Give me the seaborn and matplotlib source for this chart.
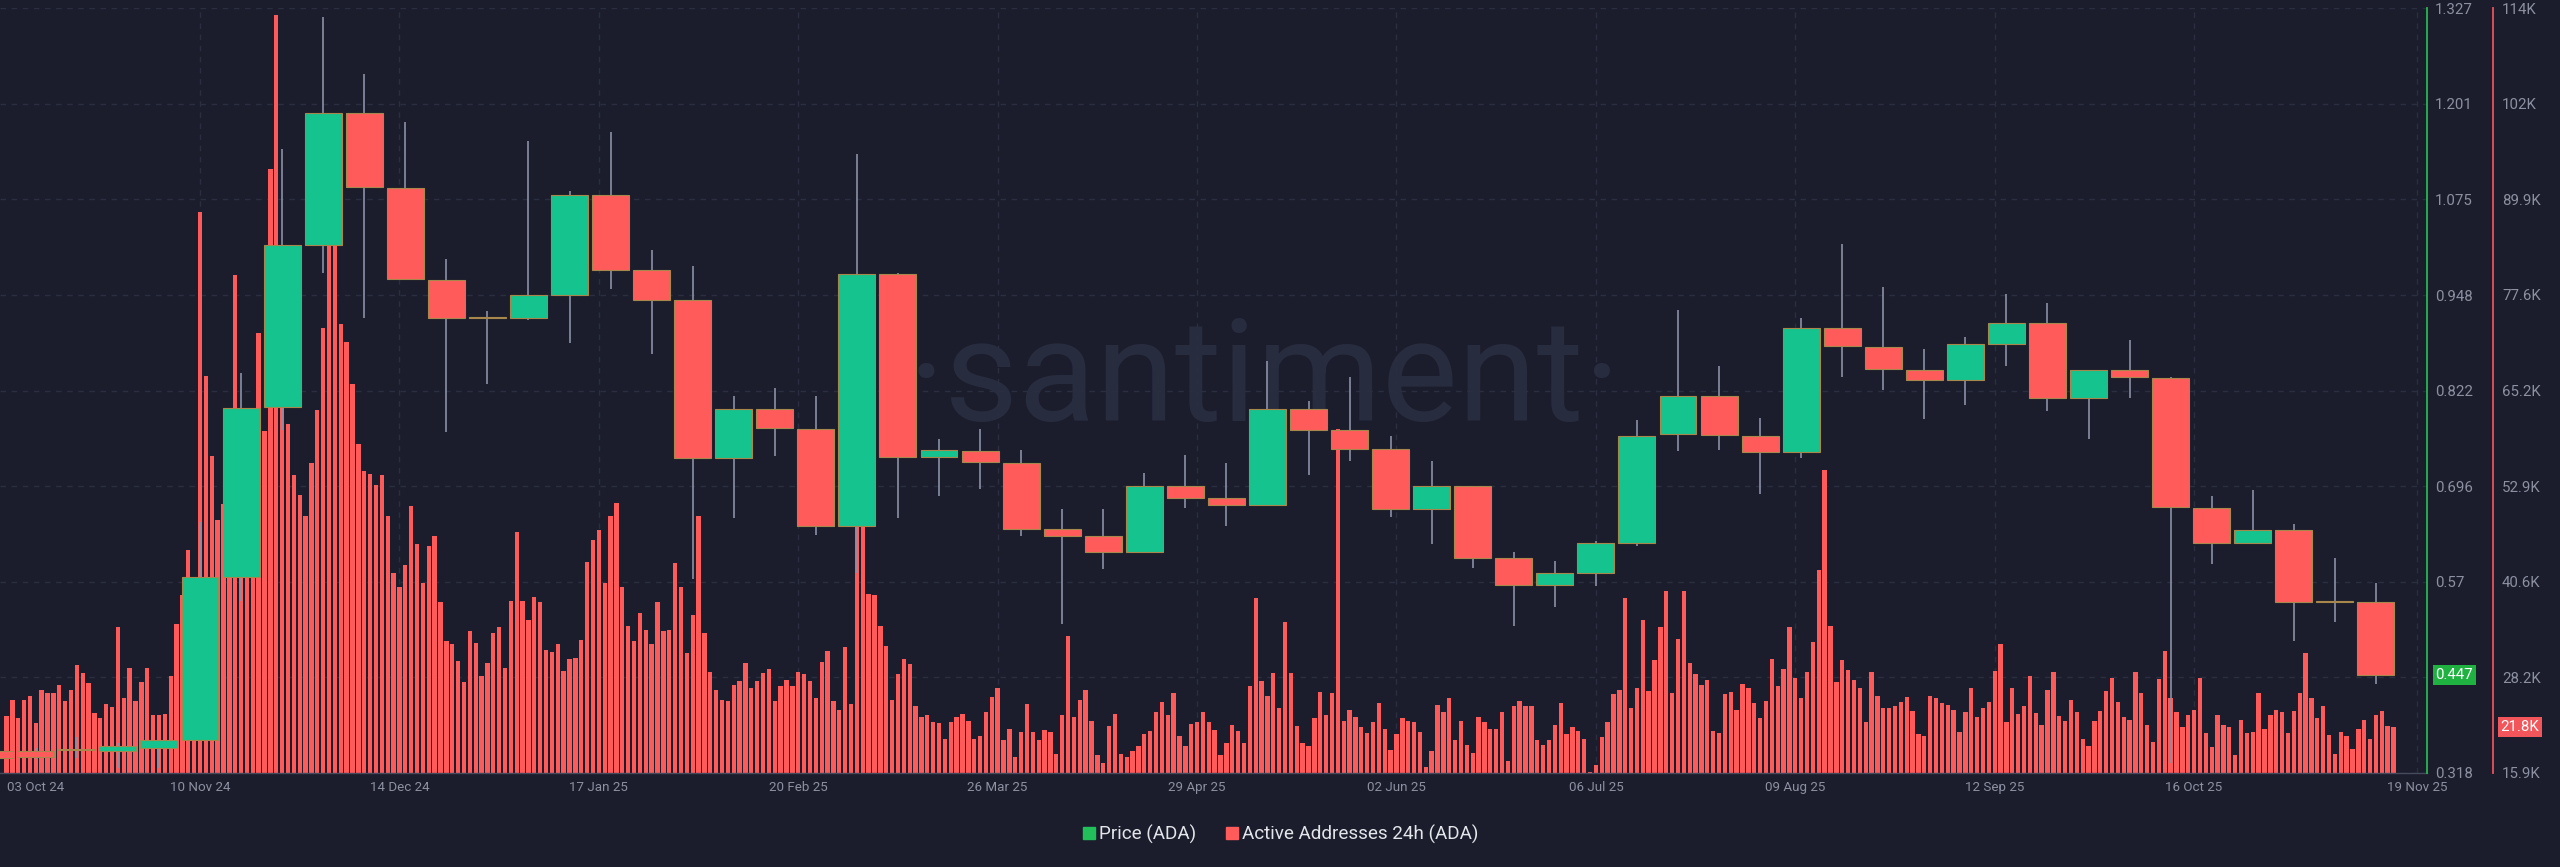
import numpy as np
import pandas as pd
import matplotlib
matplotlib.use("Agg")
import matplotlib.pyplot as plt
import matplotlib.dates as mdates
from matplotlib.lines import Line2D
import seaborn as sns

# ---------------- data ----------------
bar_start = "2024-10-08"          # daily Active Addresses 24h (thousands)
active_addresses_k = [
    23.2, 25.3, 22.9, 25.3, 25.8, 22.3, 26.6, 26.2, 26.2, 27.2,
    25.1, 26.6, 29.7, 28.7, 27.4, 23.6, 22.9, 24.7, 24.4, 34.6,
    25.5, 29.4, 25.1, 27.6, 29.4, 23.3, 23.4, 23.5, 28.4, 35.0,
    38.7, 44.5, 40.0, 87.8, 66.8, 56.6, 48.4, 50.4, 53.6, 79.7,
    51.7, 54.3, 56.9, 72.3, 59.7, 93.4, 113.1, 66.6, 60.6, 54.1,
    51.6, 48.8, 55.6, 62.5, 73.0, 84.2, 86.0, 73.5, 71.2, 65.8,
    58.1, 54.6, 54.3, 52.8, 54.1, 48.9, 41.5, 39.8, 42.6, 50.2,
    45.3, 40.3, 45.0, 46.3, 37.8, 32.8, 32.5, 30.2, 27.6, 34.1,
    32.6, 28.4, 30.0, 33.8, 34.6, 29.4, 37.9, 46.8, 38.0, 35.5,
    38.5, 37.8, 31.7, 31.4, 32.5, 29.0, 30.5, 30.7, 32.9, 42.9,
    45.8, 47.0, 40.3, 48.9, 50.5, 39.8, 34.8, 32.8, 36.4, 34.2,
    32.5, 37.8, 34.1, 34.2, 42.8, 39.8, 31.3, 36.2, 48.8, 33.8,
    28.9, 26.6, 25.3, 25.1, 27.2, 27.7, 30.0, 26.8, 27.7, 28.7,
    29.2, 25.1, 27.1, 27.8, 27.0, 28.8, 28.6, 27.7, 25.5,
    30.1, 31.6, 25.1, 24.0, 32.0, 24.7, 55.0, 50.0, 38.9, 38.7,
    34.8, 32.2, 25.2, 28.6, 30.5, 29.9, 24.5, 23.1, 23.3, 22.4,
    22.3, 20.3, 22.4, 23.1, 23.5, 22.6, 20.3, 20.6, 23.7, 25.7,
    26.8, 20.1, 21.6, 18.0, 21.1, 24.7, 21.1, 20.1, 21.4, 21.1,
    18.4, 23.4, 33.5, 23.1, 25.3, 26.6, 22.6, 18.2, 17.2, 21.9,
    23.5, 18.4, 18.0, 18.7, 19.3, 20.9, 21.3, 23.7, 25.0, 23.3,
    26.2, 20.6, 19.3, 22.2, 22.4, 23.7, 22.4, 21.4, 18.2,
    19.8, 22.1, 21.3, 19.8, 27.0, 38.3, 27.7, 25.8, 28.7, 24.2,
    35.2, 28.7, 21.9, 19.8, 19.3, 22.9, 26.3, 23.3, 26.2, 60.0,
    22.6, 24.0, 23.1, 21.8, 21.0, 22.4, 24.9, 21.6, 18.8, 20.9,
    22.9, 22.6, 22.4, 21.2, 16.7, 18.7, 24.6, 23.7, 25.5, 20.1,
    22.6, 19.5, 18.5, 23.1, 22.5, 21.6, 21.6, 23.7, 17.5, 24.5,
    25.1, 24.5, 24.5, 20.1, 19.5, 20.1, 22.1, 24.9, 20.9, 21.8,
    21.3, 20.3, 16.0, 16.9, 20.5, 22.4, 26.0, 26.6, 38.3,
    24.2, 26.8, 35.5, 26.4, 30.4, 34.6, 39.2, 26.1, 33.1, 39.2,
    30.0, 28.6, 27.2, 27.8, 21.3, 21.0, 26.0, 26.3, 24.0, 27.3,
    26.8, 24.9, 22.9, 25.1, 30.5, 27.0, 29.2, 34.6, 28.1, 25.5,
    28.9, 32.7, 41.9, 54.8, 34.8, 27.6, 30.4, 29.1, 27.8, 26.8,
    22.4, 28.8, 25.8, 24.2, 24.2, 24.5, 25.0, 25.7, 23.8, 20.9,
    20.6, 25.8, 25.5, 24.9, 24.6, 24.0, 21.1, 23.7, 26.8, 23.1,
    24.2, 25.0, 29.0, 32.5, 22.4, 26.8, 23.5, 24.5, 28.3,
    23.6, 22.1, 26.5, 28.8, 23.2, 22.6, 25.3, 23.7, 20.3, 19.3,
    22.6, 23.9, 26.4, 28.1, 25.0, 23.1, 22.7, 28.8, 26.1, 22.1,
    19.9, 27.9, 31.6, 25.5, 23.7, 21.8, 23.3, 24.0, 28.1, 21.0,
    19.2, 23.3, 22.1, 21.8, 18.2, 22.7, 21.0, 21.2, 26.1, 21.6,
    23.4, 24.0, 23.7, 21.0, 23.8, 26.1, 31.3, 25.5, 22.9, 24.5,
    20.8, 18.4, 21.1, 20.6, 19.0, 21.6, 22.7, 20.3, 23.3, 23.8, 21.9, 21.8,
]

candle_start = "2024-10-06"       # weekly ADA price candles
price_open = [
    0.347, 0.347, 0.349, 0.347, 0.351, 0.361, 0.577, 0.801, 1.015, 1.189,
    1.089, 0.968, 0.918, 0.918, 0.948, 1.081, 0.982, 0.942, 0.733, 0.798,
    0.772, 0.644, 0.976, 0.735, 0.743, 0.727, 0.640, 0.630, 0.609, 0.697,
    0.681, 0.671, 0.798, 0.770, 0.746, 0.666, 0.697, 0.601, 0.566, 0.582,
    0.622, 0.765, 0.815, 0.762, 0.741, 0.905, 0.880, 0.850, 0.837, 0.884,
    0.912, 0.813, 0.849, 0.839, 0.667, 0.622, 0.639, 0.544, 0.543]
price_close = [
    0.338, 0.339, 0.348, 0.353, 0.361, 0.577, 0.800, 1.014, 1.189, 1.091,
    0.970, 0.918, 0.919, 0.948, 1.081, 0.982, 0.942, 0.733, 0.798, 0.773,
    0.644, 0.976, 0.735, 0.744, 0.728, 0.640, 0.631, 0.609, 0.697, 0.681,
    0.671, 0.798, 0.771, 0.746, 0.666, 0.697, 0.602, 0.566, 0.582, 0.622,
    0.763, 0.815, 0.764, 0.741, 0.905, 0.881, 0.851, 0.837, 0.884, 0.912,
    0.813, 0.849, 0.840, 0.669, 0.622, 0.639, 0.544, 0.543, 0.447]
price_high = [
    0.352, 0.351, 0.365, 0.358, 0.362, 0.649, 0.846, 1.141, 1.315, 1.240,
    1.176, 0.996, 0.928, 1.151, 1.085, 1.164, 1.008, 0.987, 0.815, 0.826,
    0.815, 1.134, 0.977, 0.758, 0.772, 0.744, 0.666, 0.666, 0.714, 0.737,
    0.727, 0.861, 0.808, 0.840, 0.763, 0.729, 0.697, 0.609, 0.597, 0.624,
    0.783, 0.929, 0.855, 0.786, 0.918, 1.016, 0.959, 0.877, 0.893, 0.950,
    0.938, 0.849, 0.889, 0.840, 0.684, 0.691, 0.646, 0.602, 0.569]
price_low = [
    0.334, 0.336, 0.338, 0.325, 0.325, 0.361, 0.545, 0.770, 0.977, 0.918,
    0.968, 0.768, 0.831, 0.915, 0.885, 0.956, 0.870, 0.574, 0.654, 0.736,
    0.632, 0.582, 0.654, 0.684, 0.693, 0.630, 0.514, 0.587, 0.609, 0.667,
    0.644, 0.671, 0.711, 0.729, 0.656, 0.620, 0.589, 0.512, 0.537, 0.564,
    0.617, 0.743, 0.744, 0.686, 0.734, 0.840, 0.823, 0.785, 0.804, 0.855,
    0.795, 0.758, 0.812, 0.331, 0.594, 0.621, 0.492, 0.517, 0.435]

price_ticks = [0.318, 0.444, 0.570, 0.696, 0.822, 0.948, 1.075, 1.201, 1.327]
price_tick_labels = ["0.318", "", "0.57", "0.696", "0.822", "0.948", "1.075", "1.201", "1.327"]
aa_ticks = [15900, 28160, 40430, 52690, 64950, 77210, 89480, 101740, 114000]
aa_tick_labels = ["15.9K", "28.2K", "40.6K", "52.9K", "65.2K", "77.6K", "89.9K", "102K", "114K"]
xtick_dates = ["2024-10-13", "2024-11-10", "2024-12-14", "2025-01-17", "2025-02-20",
               "2025-03-26", "2025-04-29", "2025-06-02", "2025-07-06", "2025-08-09",
               "2025-09-12", "2025-10-16", "2025-11-23"]
xtick_labels = ["03 Oct 24", "10 Nov 24", "14 Dec 24", "17 Jan 25", "20 Feb 25",
                "26 Mar 25", "29 Apr 25", "02 Jun 25", "06 Jul 25", "09 Aug 25",
                "12 Sep 25", "16 Oct 25", "19 Nov 25"]
last_price = 0.447
last_aa_label = "21.8K"
last_aa = 21800
x_range = ["2024-10-06 21:30", "2025-11-24 17:00"]

# ---------------- style ----------------
BG = "#1b1d2c"
GREEN = "#14c38e"
RED = "#ff5b5b"
BAR_RED = "#ff5a5a"
EDGE = "#a8874c"
WICK = "#8b90a6"
TICK = "#8c90a1"
GRID = "#2a2e40"
PRICE_LINE = "#27b84d"
AA_LINE = "#e8525a"

sns.set_theme(style="dark", rc={"axes.facecolor": BG, "figure.facecolor": BG})
plt.rcParams["font.family"] = ["Roboto", "DejaVu Sans"]

W, H = 2560, 867
fig = plt.figure(figsize=(W / 100, H / 100), dpi=100, facecolor=BG)
ax_left, ax_right, ax_bottom, ax_top = 0, 2427, 773, 8
ax = fig.add_axes([ax_left / W, (H - ax_bottom) / H, (ax_right - ax_left) / W,
                   (ax_bottom - ax_top) / H])
ax.set_facecolor(BG)

# bars: active addresses
bar_x = mdates.date2num(pd.date_range(bar_start, periods=len(active_addresses_k), freq="D"))
bar_df = pd.DataFrame({"x": bar_x, "aa": np.array(active_addresses_k) * 1000})
sns.barplot(data=bar_df, x="x", y="aa", native_scale=True, width=0.74,
            color=BAR_RED, saturation=1, errorbar=None, linewidth=0,
            ax=ax, zorder=2)
ax.set_xlabel("")
ax.set_ylabel("")
ax.set_ylim(aa_ticks[0], aa_ticks[-1])

# watermark
ax.text(0.521, 0.46, "\u00b7santiment\u00b7", transform=ax.transAxes,
        ha="center", va="baseline", fontsize=103, color="#282c3f",
        family=["Liberation Sans Narrow", "Roboto", "DejaVu Sans"], zorder=0)

# candles on twin axis
ax2 = ax.twinx()
ax2.set_ylim(price_ticks[0], price_ticks[-1])
cx = mdates.date2num(pd.date_range(candle_start, periods=len(price_open), freq="7D"))
o = np.array(price_open)
c = np.array(price_close)
up = c >= o
ax2.vlines(cx, price_low, price_high, color=WICK, lw=1.2, zorder=2)
ax2.bar(cx, np.maximum(np.abs(c - o), 0.002), bottom=np.minimum(o, c), width=6.3,
        color=np.where(up, GREEN, RED), edgecolor=EDGE, linewidth=0.8, zorder=3)

# x axis
xt = mdates.date2num(pd.to_datetime(xtick_dates))
ax.set_xlim(*mdates.date2num(pd.to_datetime(x_range)))
ax.set_xticks(xt)
ax.set_xticklabels(xtick_labels)
ax.tick_params(axis="x", length=0, pad=6, labelsize=9.6, labelcolor=TICK)
for v in xt[1:]:
    ax.axvline(v, color=GRID, lw=1, ls=(0, (4, 4)), zorder=1)

# AA axis (outer right)
ax.yaxis.tick_right()
ax.set_yticks(aa_ticks)
ax.set_yticklabels(aa_tick_labels)
ax.tick_params(axis="y", length=0, pad=6.5, labelsize=10.8, labelcolor=TICK)
ax.grid(axis="y", color=GRID, lw=1, ls=(0, (4, 4)), zorder=1)
ax.grid(axis="x", visible=False)
ax.set_axisbelow(True)
for s in ["top", "left"]:
    ax.spines[s].set_visible(False)
ax.spines["right"].set_position(("outward", 66 * 0.72))
ax.spines["right"].set_color(AA_LINE)
ax.spines["right"].set_linewidth(1.3)
ax.spines["bottom"].set_color("#454a5c")
ax.spines["bottom"].set_linewidth(1)

# price axis (inner right)
ax2.set_yticks(price_ticks)
ax2.set_yticklabels(price_tick_labels)
ax2.tick_params(axis="y", length=0, pad=5.8, labelsize=10.8, labelcolor=TICK)
ax2.grid(False)
for s in ["top", "left", "bottom"]:
    ax2.spines[s].set_visible(False)
ax2.spines["right"].set_color(PRICE_LINE)
ax2.spines["right"].set_linewidth(1.3)

# last-value tags
ax2.annotate(f"{last_price:.3f}", xy=(1, last_price), xycoords=ax2.get_yaxis_transform(),
             xytext=(6.2, 0), textcoords="offset points", ha="left", va="center",
             fontsize=10.8, color="white",
             bbox=dict(boxstyle="square,pad=0.18", fc="#1fb241", ec="none"), zorder=10)
ax.annotate(last_aa_label, xy=(1, last_aa), xycoords=ax.get_yaxis_transform(),
            xytext=(53.0, 0), textcoords="offset points", ha="left", va="center",
            fontsize=10.8, color="white",
            bbox=dict(boxstyle="square,pad=0.18", fc="#f2565a", ec="none"),
            zorder=10, annotation_clip=False)

# legend
handles = [Line2D([], [], marker="s", ls="", color="#22c05a", markersize=9, label="Price (ADA)"),
           Line2D([], [], marker="s", ls="", color=RED, markersize=9, label="Active Addresses 24h (ADA)")]
fig.legend(handles=handles, loc="center", bbox_to_anchor=(0.5, 0.038), ncol=2, frameon=False,
           labelcolor="#e4e5ea", fontsize=13.6, handletextpad=0.15, columnspacing=1.5,
           handlelength=0.8)

fig.savefig("out.png", dpi=100, facecolor=BG)
